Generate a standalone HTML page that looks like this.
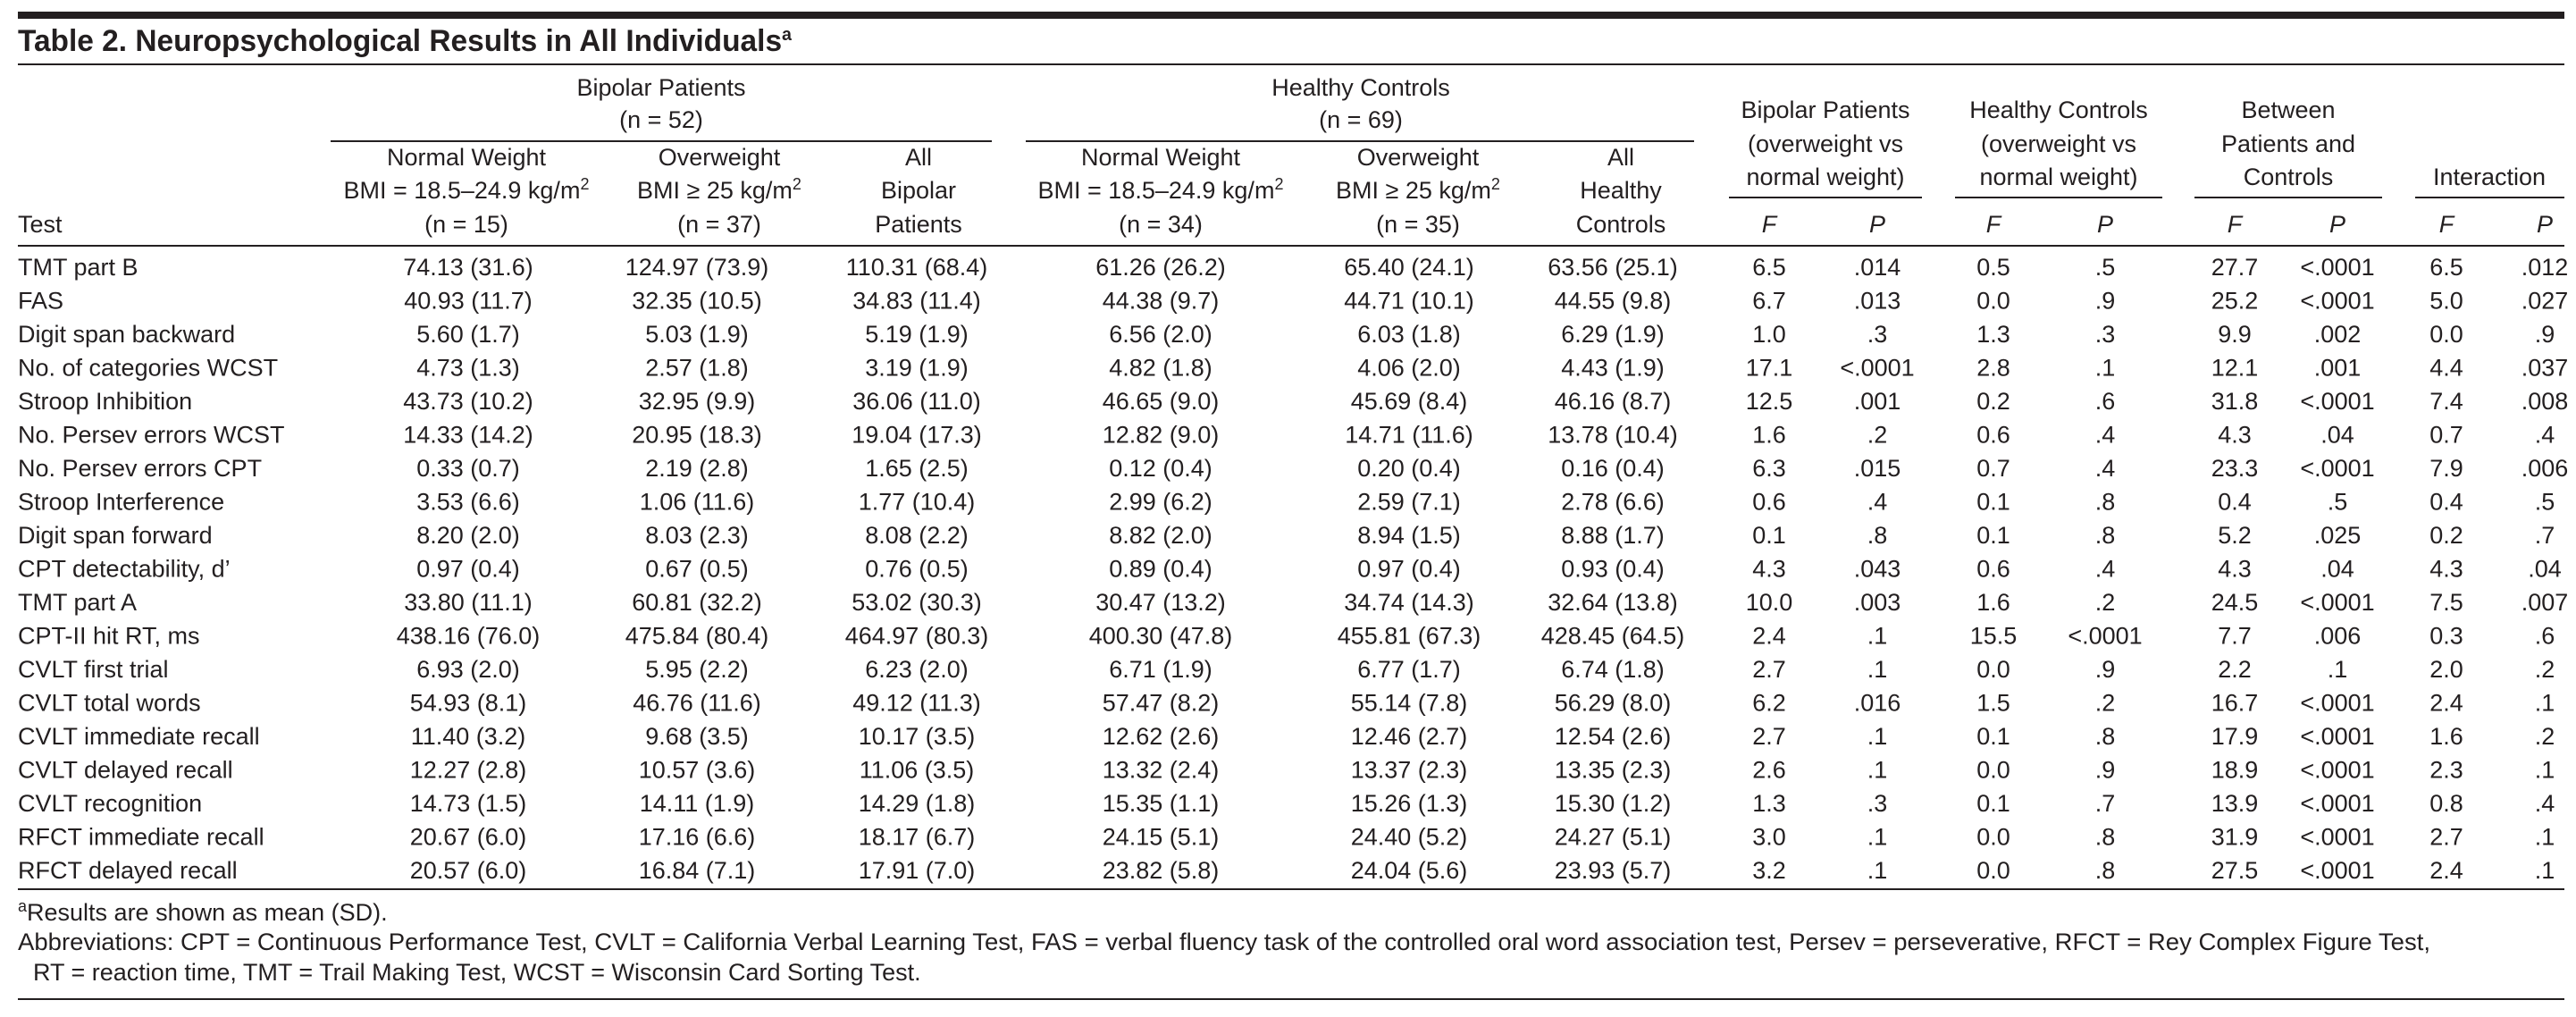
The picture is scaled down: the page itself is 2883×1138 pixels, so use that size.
<!DOCTYPE html>
<html><head><meta charset="utf-8"><style>
html,body{margin:0;padding:0;background:#fff}
svg{display:block}
text{font-family:"Liberation Sans",sans-serif;font-size:27px;fill:#231f20}
.c{text-anchor:middle}
.i{font-style:italic}
</style></head><body>
<svg width="2883" height="1138" viewBox="0 0 2883 1138" xmlns="http://www.w3.org/2000/svg">
<rect x="20" y="13" width="2850" height="8" fill="#231f20"/>
<text x="20" y="57" style="font-size:34px;font-weight:bold" textLength="866" lengthAdjust="spacingAndGlyphs">Table 2. Neuropsychological Results in All Individuals<tspan dy="-12" style="font-size:20px">a</tspan></text>
<rect x="20" y="71" width="2850" height="2" fill="#231f20"/>
<g class="c">
<text x="740" y="107" class="c">Bipolar Patients</text>
<text x="740" y="143" class="c">(n = 52)</text>
<text x="1523" y="107" class="c">Healthy Controls</text>
<text x="1523" y="143" class="c">(n = 69)</text>
</g>
<rect x="370" y="157" width="740" height="2" fill="#231f20"/>
<rect x="1148" y="157" width="748" height="2" fill="#231f20"/>
<text x="522" y="185" class="c">Normal Weight</text>
<text x="522" y="222" class="c">BMI = 18.5–24.9 kg/m<tspan dy="-10" style="font-size:18px">2</tspan></text>
<text x="522" y="260" class="c">(n = 15)</text>
<text x="805" y="185" class="c">Overweight</text>
<text x="805" y="222" class="c">BMI ≥ 25 kg/m<tspan dy="-10" style="font-size:18px">2</tspan></text>
<text x="805" y="260" class="c">(n = 37)</text>
<text x="1028" y="185" class="c">All</text>
<text x="1028" y="222" class="c">Bipolar</text>
<text x="1028" y="260" class="c">Patients</text>
<text x="1299" y="185" class="c">Normal Weight</text>
<text x="1299" y="222" class="c">BMI = 18.5–24.9 kg/m<tspan dy="-10" style="font-size:18px">2</tspan></text>
<text x="1299" y="260" class="c">(n = 34)</text>
<text x="1587" y="185" class="c">Overweight</text>
<text x="1587" y="222" class="c">BMI ≥ 25 kg/m<tspan dy="-10" style="font-size:18px">2</tspan></text>
<text x="1587" y="260" class="c">(n = 35)</text>
<text x="1814" y="185" class="c">All</text>
<text x="1814" y="222" class="c">Healthy</text>
<text x="1814" y="260" class="c">Controls</text>
<text x="20" y="260">Test</text>
<text x="2043" y="132" class="c">Bipolar Patients</text>
<text x="2043" y="170" class="c">(overweight vs</text>
<text x="2043" y="207" class="c">normal weight)</text>
<text x="2304" y="132" class="c">Healthy Controls</text>
<text x="2304" y="170" class="c">(overweight vs</text>
<text x="2304" y="207" class="c">normal weight)</text>
<text x="2561" y="132" class="c">Between</text>
<text x="2561" y="170" class="c">Patients and</text>
<text x="2561" y="207" class="c">Controls</text>
<text x="2786" y="207" class="c">Interaction</text>
<rect x="1935" y="220" width="216" height="2" fill="#231f20"/>
<rect x="2188" y="220" width="232" height="2" fill="#231f20"/>
<rect x="2456" y="220" width="210" height="2" fill="#231f20"/>
<rect x="2703" y="220" width="167" height="2" fill="#231f20"/>
<g class="i">
<text x="1980" y="260" class="c i">F</text><text x="2101" y="260" class="c i">P</text>
<text x="2231" y="260" class="c i">F</text><text x="2356" y="260" class="c i">P</text>
<text x="2501" y="260" class="c i">F</text><text x="2616" y="260" class="c i">P</text>
<text x="2738" y="260" class="c i">F</text><text x="2848" y="260" class="c i">P</text>
</g>
<rect x="20" y="274" width="2850" height="2" fill="#231f20"/>
<g id="rows">
<text x="20" y="308">TMT part B</text>
<text x="20" y="345.5">FAS</text>
<text x="20" y="383">Digit span backward</text>
<text x="20" y="420.5">No. of categories WCST</text>
<text x="20" y="458">Stroop Inhibition</text>
<text x="20" y="495.5">No. Persev errors WCST</text>
<text x="20" y="533">No. Persev errors CPT</text>
<text x="20" y="570.5">Stroop Interference</text>
<text x="20" y="608">Digit span forward</text>
<text x="20" y="645.5">CPT detectability, d’</text>
<text x="20" y="683">TMT part A</text>
<text x="20" y="720.5">CPT-II hit RT, ms</text>
<text x="20" y="758">CVLT first trial</text>
<text x="20" y="795.5">CVLT total words</text>
<text x="20" y="833">CVLT immediate recall</text>
<text x="20" y="870.5">CVLT delayed recall</text>
<text x="20" y="908">CVLT recognition</text>
<text x="20" y="945.5">RFCT immediate recall</text>
<text x="20" y="983">RFCT delayed recall</text>
</g>
<g class="c">
<text x="524" y="308" class="c">74.13 (31.6)</text><text x="780" y="308" class="c">124.97 (73.9)</text><text x="1026" y="308" class="c">110.31 (68.4)</text><text x="1299" y="308" class="c">61.26 (26.2)</text><text x="1577" y="308" class="c">65.40 (24.1)</text><text x="1805" y="308" class="c">63.56 (25.1)</text><text x="1980" y="308" class="c">6.5</text><text x="2101" y="308" class="c">.014</text><text x="2231" y="308" class="c">0.5</text><text x="2356" y="308" class="c">.5</text><text x="2501" y="308" class="c">27.7</text><text x="2616" y="308" class="c">&lt;.0001</text><text x="2738" y="308" class="c">6.5</text><text x="2848" y="308" class="c">.012</text>
<text x="524" y="345.5" class="c">40.93 (11.7)</text><text x="780" y="345.5" class="c">32.35 (10.5)</text><text x="1026" y="345.5" class="c">34.83 (11.4)</text><text x="1299" y="345.5" class="c">44.38 (9.7)</text><text x="1577" y="345.5" class="c">44.71 (10.1)</text><text x="1805" y="345.5" class="c">44.55 (9.8)</text><text x="1980" y="345.5" class="c">6.7</text><text x="2101" y="345.5" class="c">.013</text><text x="2231" y="345.5" class="c">0.0</text><text x="2356" y="345.5" class="c">.9</text><text x="2501" y="345.5" class="c">25.2</text><text x="2616" y="345.5" class="c">&lt;.0001</text><text x="2738" y="345.5" class="c">5.0</text><text x="2848" y="345.5" class="c">.027</text>
<text x="524" y="383" class="c">5.60 (1.7)</text><text x="780" y="383" class="c">5.03 (1.9)</text><text x="1026" y="383" class="c">5.19 (1.9)</text><text x="1299" y="383" class="c">6.56 (2.0)</text><text x="1577" y="383" class="c">6.03 (1.8)</text><text x="1805" y="383" class="c">6.29 (1.9)</text><text x="1980" y="383" class="c">1.0</text><text x="2101" y="383" class="c">.3</text><text x="2231" y="383" class="c">1.3</text><text x="2356" y="383" class="c">.3</text><text x="2501" y="383" class="c">9.9</text><text x="2616" y="383" class="c">.002</text><text x="2738" y="383" class="c">0.0</text><text x="2848" y="383" class="c">.9</text>
<text x="524" y="420.5" class="c">4.73 (1.3)</text><text x="780" y="420.5" class="c">2.57 (1.8)</text><text x="1026" y="420.5" class="c">3.19 (1.9)</text><text x="1299" y="420.5" class="c">4.82 (1.8)</text><text x="1577" y="420.5" class="c">4.06 (2.0)</text><text x="1805" y="420.5" class="c">4.43 (1.9)</text><text x="1980" y="420.5" class="c">17.1</text><text x="2101" y="420.5" class="c">&lt;.0001</text><text x="2231" y="420.5" class="c">2.8</text><text x="2356" y="420.5" class="c">.1</text><text x="2501" y="420.5" class="c">12.1</text><text x="2616" y="420.5" class="c">.001</text><text x="2738" y="420.5" class="c">4.4</text><text x="2848" y="420.5" class="c">.037</text>
<text x="524" y="458" class="c">43.73 (10.2)</text><text x="780" y="458" class="c">32.95 (9.9)</text><text x="1026" y="458" class="c">36.06 (11.0)</text><text x="1299" y="458" class="c">46.65 (9.0)</text><text x="1577" y="458" class="c">45.69 (8.4)</text><text x="1805" y="458" class="c">46.16 (8.7)</text><text x="1980" y="458" class="c">12.5</text><text x="2101" y="458" class="c">.001</text><text x="2231" y="458" class="c">0.2</text><text x="2356" y="458" class="c">.6</text><text x="2501" y="458" class="c">31.8</text><text x="2616" y="458" class="c">&lt;.0001</text><text x="2738" y="458" class="c">7.4</text><text x="2848" y="458" class="c">.008</text>
<text x="524" y="495.5" class="c">14.33 (14.2)</text><text x="780" y="495.5" class="c">20.95 (18.3)</text><text x="1026" y="495.5" class="c">19.04 (17.3)</text><text x="1299" y="495.5" class="c">12.82 (9.0)</text><text x="1577" y="495.5" class="c">14.71 (11.6)</text><text x="1805" y="495.5" class="c">13.78 (10.4)</text><text x="1980" y="495.5" class="c">1.6</text><text x="2101" y="495.5" class="c">.2</text><text x="2231" y="495.5" class="c">0.6</text><text x="2356" y="495.5" class="c">.4</text><text x="2501" y="495.5" class="c">4.3</text><text x="2616" y="495.5" class="c">.04</text><text x="2738" y="495.5" class="c">0.7</text><text x="2848" y="495.5" class="c">.4</text>
<text x="524" y="533" class="c">0.33 (0.7)</text><text x="780" y="533" class="c">2.19 (2.8)</text><text x="1026" y="533" class="c">1.65 (2.5)</text><text x="1299" y="533" class="c">0.12 (0.4)</text><text x="1577" y="533" class="c">0.20 (0.4)</text><text x="1805" y="533" class="c">0.16 (0.4)</text><text x="1980" y="533" class="c">6.3</text><text x="2101" y="533" class="c">.015</text><text x="2231" y="533" class="c">0.7</text><text x="2356" y="533" class="c">.4</text><text x="2501" y="533" class="c">23.3</text><text x="2616" y="533" class="c">&lt;.0001</text><text x="2738" y="533" class="c">7.9</text><text x="2848" y="533" class="c">.006</text>
<text x="524" y="570.5" class="c">3.53 (6.6)</text><text x="780" y="570.5" class="c">1.06 (11.6)</text><text x="1026" y="570.5" class="c">1.77 (10.4)</text><text x="1299" y="570.5" class="c">2.99 (6.2)</text><text x="1577" y="570.5" class="c">2.59 (7.1)</text><text x="1805" y="570.5" class="c">2.78 (6.6)</text><text x="1980" y="570.5" class="c">0.6</text><text x="2101" y="570.5" class="c">.4</text><text x="2231" y="570.5" class="c">0.1</text><text x="2356" y="570.5" class="c">.8</text><text x="2501" y="570.5" class="c">0.4</text><text x="2616" y="570.5" class="c">.5</text><text x="2738" y="570.5" class="c">0.4</text><text x="2848" y="570.5" class="c">.5</text>
<text x="524" y="608" class="c">8.20 (2.0)</text><text x="780" y="608" class="c">8.03 (2.3)</text><text x="1026" y="608" class="c">8.08 (2.2)</text><text x="1299" y="608" class="c">8.82 (2.0)</text><text x="1577" y="608" class="c">8.94 (1.5)</text><text x="1805" y="608" class="c">8.88 (1.7)</text><text x="1980" y="608" class="c">0.1</text><text x="2101" y="608" class="c">.8</text><text x="2231" y="608" class="c">0.1</text><text x="2356" y="608" class="c">.8</text><text x="2501" y="608" class="c">5.2</text><text x="2616" y="608" class="c">.025</text><text x="2738" y="608" class="c">0.2</text><text x="2848" y="608" class="c">.7</text>
<text x="524" y="645.5" class="c">0.97 (0.4)</text><text x="780" y="645.5" class="c">0.67 (0.5)</text><text x="1026" y="645.5" class="c">0.76 (0.5)</text><text x="1299" y="645.5" class="c">0.89 (0.4)</text><text x="1577" y="645.5" class="c">0.97 (0.4)</text><text x="1805" y="645.5" class="c">0.93 (0.4)</text><text x="1980" y="645.5" class="c">4.3</text><text x="2101" y="645.5" class="c">.043</text><text x="2231" y="645.5" class="c">0.6</text><text x="2356" y="645.5" class="c">.4</text><text x="2501" y="645.5" class="c">4.3</text><text x="2616" y="645.5" class="c">.04</text><text x="2738" y="645.5" class="c">4.3</text><text x="2848" y="645.5" class="c">.04</text>
<text x="524" y="683" class="c">33.80 (11.1)</text><text x="780" y="683" class="c">60.81 (32.2)</text><text x="1026" y="683" class="c">53.02 (30.3)</text><text x="1299" y="683" class="c">30.47 (13.2)</text><text x="1577" y="683" class="c">34.74 (14.3)</text><text x="1805" y="683" class="c">32.64 (13.8)</text><text x="1980" y="683" class="c">10.0</text><text x="2101" y="683" class="c">.003</text><text x="2231" y="683" class="c">1.6</text><text x="2356" y="683" class="c">.2</text><text x="2501" y="683" class="c">24.5</text><text x="2616" y="683" class="c">&lt;.0001</text><text x="2738" y="683" class="c">7.5</text><text x="2848" y="683" class="c">.007</text>
<text x="524" y="720.5" class="c">438.16 (76.0)</text><text x="780" y="720.5" class="c">475.84 (80.4)</text><text x="1026" y="720.5" class="c">464.97 (80.3)</text><text x="1299" y="720.5" class="c">400.30 (47.8)</text><text x="1577" y="720.5" class="c">455.81 (67.3)</text><text x="1805" y="720.5" class="c">428.45 (64.5)</text><text x="1980" y="720.5" class="c">2.4</text><text x="2101" y="720.5" class="c">.1</text><text x="2231" y="720.5" class="c">15.5</text><text x="2356" y="720.5" class="c">&lt;.0001</text><text x="2501" y="720.5" class="c">7.7</text><text x="2616" y="720.5" class="c">.006</text><text x="2738" y="720.5" class="c">0.3</text><text x="2848" y="720.5" class="c">.6</text>
<text x="524" y="758" class="c">6.93 (2.0)</text><text x="780" y="758" class="c">5.95 (2.2)</text><text x="1026" y="758" class="c">6.23 (2.0)</text><text x="1299" y="758" class="c">6.71 (1.9)</text><text x="1577" y="758" class="c">6.77 (1.7)</text><text x="1805" y="758" class="c">6.74 (1.8)</text><text x="1980" y="758" class="c">2.7</text><text x="2101" y="758" class="c">.1</text><text x="2231" y="758" class="c">0.0</text><text x="2356" y="758" class="c">.9</text><text x="2501" y="758" class="c">2.2</text><text x="2616" y="758" class="c">.1</text><text x="2738" y="758" class="c">2.0</text><text x="2848" y="758" class="c">.2</text>
<text x="524" y="795.5" class="c">54.93 (8.1)</text><text x="780" y="795.5" class="c">46.76 (11.6)</text><text x="1026" y="795.5" class="c">49.12 (11.3)</text><text x="1299" y="795.5" class="c">57.47 (8.2)</text><text x="1577" y="795.5" class="c">55.14 (7.8)</text><text x="1805" y="795.5" class="c">56.29 (8.0)</text><text x="1980" y="795.5" class="c">6.2</text><text x="2101" y="795.5" class="c">.016</text><text x="2231" y="795.5" class="c">1.5</text><text x="2356" y="795.5" class="c">.2</text><text x="2501" y="795.5" class="c">16.7</text><text x="2616" y="795.5" class="c">&lt;.0001</text><text x="2738" y="795.5" class="c">2.4</text><text x="2848" y="795.5" class="c">.1</text>
<text x="524" y="833" class="c">11.40 (3.2)</text><text x="780" y="833" class="c">9.68 (3.5)</text><text x="1026" y="833" class="c">10.17 (3.5)</text><text x="1299" y="833" class="c">12.62 (2.6)</text><text x="1577" y="833" class="c">12.46 (2.7)</text><text x="1805" y="833" class="c">12.54 (2.6)</text><text x="1980" y="833" class="c">2.7</text><text x="2101" y="833" class="c">.1</text><text x="2231" y="833" class="c">0.1</text><text x="2356" y="833" class="c">.8</text><text x="2501" y="833" class="c">17.9</text><text x="2616" y="833" class="c">&lt;.0001</text><text x="2738" y="833" class="c">1.6</text><text x="2848" y="833" class="c">.2</text>
<text x="524" y="870.5" class="c">12.27 (2.8)</text><text x="780" y="870.5" class="c">10.57 (3.6)</text><text x="1026" y="870.5" class="c">11.06 (3.5)</text><text x="1299" y="870.5" class="c">13.32 (2.4)</text><text x="1577" y="870.5" class="c">13.37 (2.3)</text><text x="1805" y="870.5" class="c">13.35 (2.3)</text><text x="1980" y="870.5" class="c">2.6</text><text x="2101" y="870.5" class="c">.1</text><text x="2231" y="870.5" class="c">0.0</text><text x="2356" y="870.5" class="c">.9</text><text x="2501" y="870.5" class="c">18.9</text><text x="2616" y="870.5" class="c">&lt;.0001</text><text x="2738" y="870.5" class="c">2.3</text><text x="2848" y="870.5" class="c">.1</text>
<text x="524" y="908" class="c">14.73 (1.5)</text><text x="780" y="908" class="c">14.11 (1.9)</text><text x="1026" y="908" class="c">14.29 (1.8)</text><text x="1299" y="908" class="c">15.35 (1.1)</text><text x="1577" y="908" class="c">15.26 (1.3)</text><text x="1805" y="908" class="c">15.30 (1.2)</text><text x="1980" y="908" class="c">1.3</text><text x="2101" y="908" class="c">.3</text><text x="2231" y="908" class="c">0.1</text><text x="2356" y="908" class="c">.7</text><text x="2501" y="908" class="c">13.9</text><text x="2616" y="908" class="c">&lt;.0001</text><text x="2738" y="908" class="c">0.8</text><text x="2848" y="908" class="c">.4</text>
<text x="524" y="945.5" class="c">20.67 (6.0)</text><text x="780" y="945.5" class="c">17.16 (6.6)</text><text x="1026" y="945.5" class="c">18.17 (6.7)</text><text x="1299" y="945.5" class="c">24.15 (5.1)</text><text x="1577" y="945.5" class="c">24.40 (5.2)</text><text x="1805" y="945.5" class="c">24.27 (5.1)</text><text x="1980" y="945.5" class="c">3.0</text><text x="2101" y="945.5" class="c">.1</text><text x="2231" y="945.5" class="c">0.0</text><text x="2356" y="945.5" class="c">.8</text><text x="2501" y="945.5" class="c">31.9</text><text x="2616" y="945.5" class="c">&lt;.0001</text><text x="2738" y="945.5" class="c">2.7</text><text x="2848" y="945.5" class="c">.1</text>
<text x="524" y="983" class="c">20.57 (6.0)</text><text x="780" y="983" class="c">16.84 (7.1)</text><text x="1026" y="983" class="c">17.91 (7.0)</text><text x="1299" y="983" class="c">23.82 (5.8)</text><text x="1577" y="983" class="c">24.04 (5.6)</text><text x="1805" y="983" class="c">23.93 (5.7)</text><text x="1980" y="983" class="c">3.2</text><text x="2101" y="983" class="c">.1</text><text x="2231" y="983" class="c">0.0</text><text x="2356" y="983" class="c">.8</text><text x="2501" y="983" class="c">27.5</text><text x="2616" y="983" class="c">&lt;.0001</text><text x="2738" y="983" class="c">2.4</text><text x="2848" y="983" class="c">.1</text>
</g>
<rect x="20" y="994" width="2850" height="2" fill="#231f20"/>
<text x="20" y="1030"><tspan dy="-10" style="font-size:18px">a</tspan><tspan dy="10">Results are shown as mean (SD).</tspan></text>
<text x="20" y="1063" textLength="2700" lengthAdjust="spacingAndGlyphs">Abbreviations: CPT = Continuous Performance Test, CVLT = California Verbal Learning Test, FAS = verbal fluency task of the controlled oral word association test, Persev = perseverative, RFCT = Rey Complex Figure Test,</text>
<text x="37" y="1097">RT = reaction time, TMT = Trail Making Test, WCST = Wisconsin Card Sorting Test.</text>
<rect x="20" y="1117" width="2850" height="2" fill="#231f20"/>
</svg>
</body></html>
